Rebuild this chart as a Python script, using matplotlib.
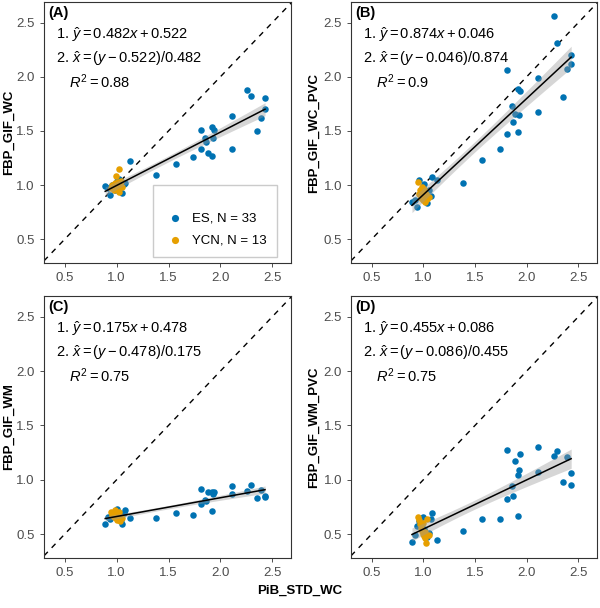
import numpy as np
import matplotlib
matplotlib.use("Agg")
from matplotlib import pyplot as plt

plt.rcParams['font.family'] = ['Liberation Sans', 'DejaVu Sans']
plt.rcParams['mathtext.fontset'] = 'custom'
plt.rcParams['mathtext.rm'] = 'Liberation Sans'
plt.rcParams['mathtext.it'] = 'Liberation Sans:italic'

# PiB_STD_WC, shared by all four panels
es_x = [2.26, 2.29, 2.43, 2.43, 2.39, 2.11, 2.11, 2.35,
        1.81, 1.81, 1.855, 1.865, 1.885, 1.915, 1.92, 1.93, 1.935,
        1.74, 1.57, 1.38, 1.13, 0.89,
        0.92, 0.94, 0.96, 0.98, 1.00, 1.01, 1.02, 1.04, 1.05, 1.07, 1.08]
ycn_x = [0.95, 0.96, 0.97, 0.98, 0.99, 1.00, 1.00, 1.01, 1.02, 1.02, 1.03, 1.04, 1.05]

# (A) FBP_GIF_WC
es_a = [1.88, 1.82, 1.80, 1.70, 1.62, 1.64, 1.33, 1.50,
        1.51, 1.33, 1.43, 1.40, 1.30, 1.54, 1.27, 1.43, 1.51,
        1.26, 1.19, 1.09, 1.22, 0.99,
        0.97, 0.91, 1.00, 0.95, 1.04, 0.97, 1.06, 0.99, 0.93, 1.01, 1.02]
ycn_a = [0.97, 1.00, 0.95, 1.02, 1.08, 0.99, 0.96, 1.03, 1.15, 0.94, 1.00, 1.04, 0.98]

# (B) FBP_GIF_WC_PVC
es_b = [2.56, 2.31, 2.20, 2.12, 2.07, 1.99, 1.67, 1.81,
        2.06, 1.47, 1.73, 1.58, 1.66, 1.89, 1.49, 1.65, 1.87,
        1.33, 1.23, 1.02, 1.05, 0.84,
        0.86, 0.80, 1.05, 0.90, 0.97, 1.01, 0.88, 0.83, 0.95, 0.90, 1.07]
ycn_b = [1.03, 0.92, 0.95, 0.88, 0.98, 0.93, 0.86, 0.96, 0.90, 0.84, 0.92, 0.87, 0.89]

# (C) FBP_GIF_WM
es_c = [0.90, 0.95, 0.85, 0.84, 0.91, 0.94, 0.87, 0.83,
        0.915, 0.78, 0.81, 0.80, 0.885, 0.89, 0.715, 0.87, 0.89,
        0.675, 0.69, 0.645, 0.645, 0.59,
        0.66, 0.64, 0.68, 0.70, 0.73, 0.65, 0.67, 0.63, 0.59, 0.69, 0.72]
ycn_c = [0.70, 0.68, 0.66, 0.72, 0.65, 0.69, 0.63, 0.67, 0.64, 0.70, 0.62, 0.66, 0.65]

# (D) FBP_GIF_WM_PVC
es_d = [1.22, 1.26, 1.06, 0.95, 1.21, 1.30, 1.07, 0.98,
        1.27, 0.82, 0.94, 0.85, 1.17, 1.04, 0.67, 1.09, 1.24,
        0.64, 0.64, 0.53, 0.45, 0.43,
        0.49, 0.57, 0.62, 0.60, 0.66, 0.55, 0.52, 0.47, 0.51, 0.64, 0.69]
ycn_d = [0.66, 0.63, 0.59, 0.56, 0.53, 0.60, 0.50, 0.48, 0.46, 0.52, 0.42, 0.64, 0.49]

panel_tags = ["(A)", "(B)", "(C)", "(D)"]
y_labels = ["FBP_GIF_WC", "FBP_GIF_WC_PVC", "FBP_GIF_WM", "FBP_GIF_WM_PVC"]
slopes = ["0.482", "0.874", "0.175", "0.455"]
intercepts = ["0.522", "0.046", "0.478", "0.086"]
r2_text = ["0.88", "0.9", "0.75", "0.75"]
es_label = "ES, N = 33"
ycn_label = "YCN, N = 13"

BLUE = "#0072B2"
ORANGE = "#E69F00"
GREY = "#4D4D4D"


def lm_band(x, y, xs):
    """Least squares line with 95% confidence band, like geom_smooth(method='lm')."""
    x = np.asarray(x)
    y = np.asarray(y)
    n = len(x)
    b, a = np.polyfit(x, y, 1)
    resid = y - (a + b * x)
    s = np.sqrt(np.sum(resid ** 2) / (n - 2))
    sxx = np.sum((x - x.mean()) ** 2)
    fit = a + b * xs
    se = s * np.sqrt(1.0 / n + (xs - x.mean()) ** 2 / sxx)
    t = 2.015
    return fit, fit - t * se, fit + t * se


fig = plt.figure(figsize=(6.0, 6.08), dpi=100)
positions = [
    [0.0733, 0.5674, 0.4117, 0.4293],
    [0.585, 0.5674, 0.41, 0.4293],
    [0.0733, 0.0822, 0.4117, 0.4309],
    [0.585, 0.0822, 0.41, 0.4309],
]
# right edge of the rotated y title, in axes fraction
ylabel_x = [-0.117, -0.126, -0.117, -0.126]
series = [(es_a, ycn_a), (es_b, ycn_b), (es_c, ycn_c), (es_d, ycn_d)]

for i, (es_y, ycn_y) in enumerate(series):
    ax = fig.add_axes(positions[i])
    ax.scatter(es_x, es_y, s=22, color=BLUE, label=es_label, zorder=2, linewidths=0)
    ax.scatter(ycn_x, ycn_y, s=22, color=ORANGE, label=ycn_label, zorder=3, linewidths=0)

    all_x = np.array(es_x + ycn_x)
    all_y = np.array(es_y + ycn_y)
    xs = np.linspace(all_x.min(), all_x.max(), 100)
    fit, lo, hi = lm_band(all_x, all_y, xs)
    ax.fill_between(xs, lo, hi, color="#999999", alpha=0.4, linewidth=0, zorder=4)
    ax.plot(xs, fit, color="black", linewidth=1.1, zorder=5)

    ax.axline((0, 0), slope=1, color="black", linestyle=(0, (4, 4)), linewidth=1.0, zorder=1)

    ax.set_xlim(0.30, 2.68)
    ax.set_ylim(0.28, 2.69)
    ax.set_xticks([0.5, 1.0, 1.5, 2.0, 2.5])
    ax.set_yticks([0.5, 1.0, 1.5, 2.0, 2.5])
    ax.set_xticklabels(["0.5", "1.0", "1.5", "2.0", "2.5"])
    ax.set_yticklabels(["0.5", "1.0", "1.5", "2.0", "2.5"])
    ax.tick_params(colors="#333333", labelcolor=GREY, labelsize=9.5, length=3, width=0.6)
    for sp in ax.spines.values():
        sp.set_color("#333333")
        sp.set_linewidth(0.8)

    ax.set_ylabel(y_labels[i], fontsize=9.5, fontweight="bold")
    ax.yaxis.set_label_coords(ylabel_x[i], 0.5)

    ax.text(0.018, 0.985, panel_tags[i], transform=ax.transAxes, fontsize=10.5,
            fontweight="bold", va="top", ha="left")
    ax.text(0.05, 0.875, r"1. $\hat{y} = %s x + %s$" % (slopes[i], intercepts[i]),
            transform=ax.transAxes, fontsize=10.5, va="center", ha="left")
    ax.text(0.05, 0.785, r"2. $\hat{x} = (y - %s)/%s$" % (intercepts[i], slopes[i]),
            transform=ax.transAxes, fontsize=10.5, va="center", ha="left")
    ax.text(0.10, 0.695, r"$R^2 = %s$" % r2_text[i],
            transform=ax.transAxes, fontsize=10.5, va="center", ha="left")

    if i == 0:
        leg = ax.legend(loc="lower right", bbox_to_anchor=(0.943, 0.023), borderaxespad=0,
                        frameon=True, fancybox=False, edgecolor="#BEBEBE", fontsize=9.5,
                        handletextpad=0.5, handlelength=1.6, borderpad=0.8, labelspacing=0.75,
                        title=" ", title_fontsize=6, markerscale=1.1)
        leg.get_frame().set_linewidth(1.0)

fig.text(0.5, 0.028, "PiB_STD_WC", ha="center", va="center", fontsize=9.5, fontweight="bold")

fig.savefig("out.png", dpi=100)
